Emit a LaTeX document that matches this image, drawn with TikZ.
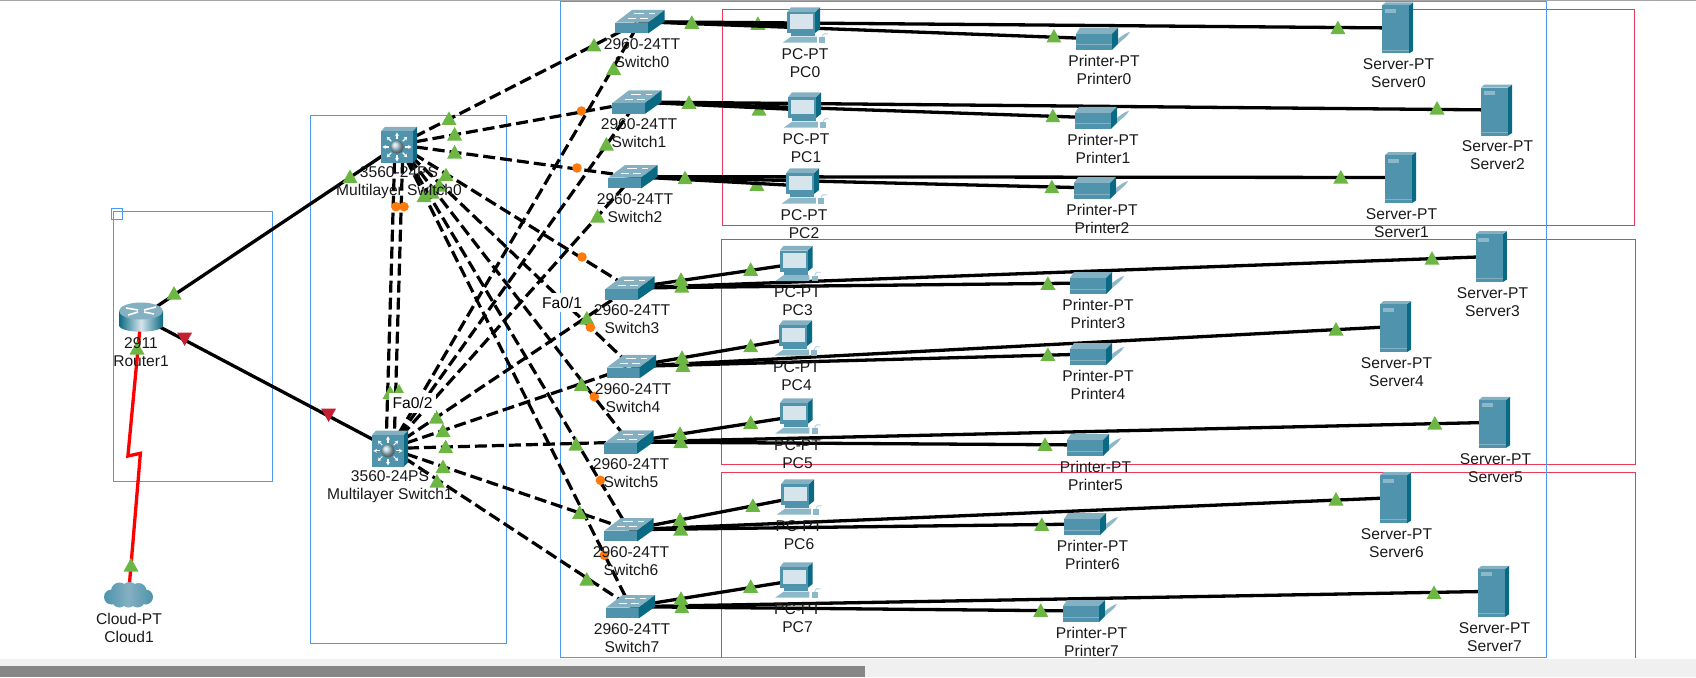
\documentclass[tikz,border=0pt]{standalone}
\usepackage{fontspec}
\setmainfont{Liberation Sans}
\usetikzlibrary{arrows.meta}
\definecolor{pttop}{HTML}{84B0C1}
\definecolor{ptfront}{HTML}{4F93AC}
\definecolor{ptside}{HTML}{0B6A83}
\definecolor{ptpale}{HTML}{8DB8C9}
\definecolor{ptscreen}{HTML}{D6E4EB}
\definecolor{boxblue}{HTML}{4A9BF0}
\definecolor{boxred}{HTML}{EE3A5A}
\definecolor{upgreen}{HTML}{6CB644}
\definecolor{downred}{HTML}{C42032}
\definecolor{amber}{HTML}{FF7A0A}
\tikzset{
  linkline/.style={line width=3.3pt, black},
  dashlink/.style={line width=3.2pt, black, dash pattern=on 12pt off 5pt},
  seriallink/.style={line width=3.3pt, red},
  groupbox/.style={line width=1pt, boxblue},
  zonebox/.style={line width=1pt, boxred},
  devlabel/.style={font=\fontsize{15.6}{18}\selectfont, align=center, inner sep=0pt, text=black!90},
  portlabel/.style={font=\fontsize{15.6}{18}\selectfont, fill=white, inner sep=4pt},
  swicon/.pic={
    \fill[pttop] (-24.6,1) -- (-8,-11.7) -- (24.6,-11.7) -- (8.2,1) -- cycle;
    \fill[ptfront] (-24.6,1) rectangle (8.2,11.7);
    \fill[ptside] (8.2,1) -- (24.6,-11.7) -- (24.6,0) -- (8.2,11.7) -- cycle;
    \draw[white, line width=.8pt] (-6,-8) -- (4,-8) (9,-8) -- (15,-8) (-12,-3) -- (-4,-3) (0,-3) -- (8,-3);
  },
  mlsicon/.pic={
    \fill[pttop] (-18,-13.4) -- (-14,-17.9) -- (18,-17.9) -- (14,-13.4) -- cycle;
    \fill[ptside] (14,-13.4) -- (18,-17.9) -- (18,14) -- (14,18) -- cycle;
    \fill[ptfront] (-18,-13.4) rectangle (14,18);
    \begin{scope}[shift={(-2,2.3)}]
      \foreach \a in {0,45,...,315}
        \draw[white, line width=1.1pt, -{Stealth[length=3.5pt,width=4pt]}] (\a:8) -- (\a:14.5);
      \shade[ball color=ptscreen!70!ptfront] (0,0) circle [radius=6.5];
    \end{scope}
  },
  routericon/.pic={
    \shade[left color=ptside, right color=ptside, middle color=ptscreen]
      (-22,-6) -- (-22,8) .. controls (-22,17) and (22,17) .. (22,8) -- (22,-6) -- cycle;
    \fill[pttop] (0,-6) ellipse [x radius=22, y radius=8.5];
    \draw[white, line width=1.6pt] (-15,-9) -- (-3,-7) (15,-10) -- (3,-7) (-13,-2) -- (-3,-5) (13,-3) -- (3,-5);
  },
  cloudicon/.pic={
    \shade[left color=ptfront, right color=ptfront, middle color=pttop]
      (-17,2) circle [radius=7.5] (-9,-4) circle [radius=8.5]
      (1,-5) circle [radius=8] (10,-4) circle [radius=8] (17,2) circle [radius=7.5]
      (-9,5) circle [radius=7.5] (0,5) circle [radius=7.5] (9,5) circle [radius=7.5];
  },
  pcicon/.pic={
    \fill[ptside] (10,-13) -- (15,-17.7) -- (15,4) -- (10,8) -- cycle;
    \fill[pttop] (-17.7,-13) -- (-14,-17.7) -- (15,-17.7) -- (10,-13) -- cycle;
    \fill[ptfront] (-17.7,-13) rectangle (10,8);
    \fill[ptscreen] (-15,-10.5) rectangle (8,4);
    \fill[ptfront] (-14,8) rectangle (10,11);
    \fill[ptpale] (-22.5,17.7) -- (-14,11.7) -- (11.8,11.7) -- (11.8,17.7) -- cycle;
    \fill[ptpale] (14,12) rectangle (20,17.7);
    \draw[ptpale!60, line width=1pt] (17,12) .. controls (18,8) and (21,8) .. (23,9);
  },
  printericon/.pic={
    \fill[pttop] (-21,-5) -- (-17,-11) -- (21,-11) -- (15,-5) -- cycle;
    \fill[ptfront] (-21,-5) rectangle (15,11);
    \fill[ptside] (15,-5) -- (21,-11) -- (21,5) -- (15,11) -- cycle;
    \draw[pttop, line width=.8pt] (-21,6) -- (15,6);
    \fill[ptpale] (21,0) .. controls (25,-3) and (29,-6) .. (33,-7) .. controls (31,-3) and (27,0) .. (21,5) -- cycle;
  },
  servericon/.pic={
    \fill[ptside] (11.5,-22.5) -- (15.5,-25.5) -- (15.5,23) -- (11.5,25.5) -- cycle;
    \fill[pttop] (-15.5,-22.5) -- (-12,-25.5) -- (15.5,-25.5) -- (11.5,-22.5) -- cycle;
    \fill[ptfront] (-15.5,-22.5) rectangle (11.5,25.5);
    \fill[ptpale] (-13,-19) rectangle (-2,-15);
    \draw[pttop, line width=.7pt] (-15.5,22) -- (11.5,22);
  }
}

\begin{document}
\begin{tikzpicture}[x=1pt, y=-1pt]
    \useasboundingbox (0,0) rectangle (1696,677);
    \fill[black!35] (0,0) rectangle (1696,1);
    \fill[black!6] (0,659) rectangle (1696,677);
    \fill[black!47] (0,666) rectangle (865,677);
    % areas
    \draw[groupbox] (113.2,211.5) rectangle (272.5,481.2);
    \draw[groupbox] (111.4,208.2) rectangle (122.5,219.6);
    \draw[groupbox] (310.7,115.5) rectangle (506.4,643);
    \draw[zonebox] (722.5,9.5) rectangle (1634,225.4);
    \draw[zonebox] (721.4,239.6) rectangle (1635.8,464.6);
    \draw[zonebox] (721.4,657.6) -- (721.4,472.4) -- (1635.8,472.4) -- (1635.8,657.6);
    \draw[groupbox] (560.7,2) rectangle (1546,657.6);

    \coordinate (router1) at (141,317);
    \coordinate (cloud1) at (128.5,595);
    \coordinate (mls0) at (399,144.7);
    \coordinate (mls1) at (390,448.5);
    \coordinate (kink0) at (127.9,456);
    \coordinate (kink1) at (140.4,453.3);
    \foreach \i/\px/\py in {0/640/21.7,1/637/102,2/633/176.7,3/630/288,4/631.5/366.5,5/629/442,6/629/529.7,7/630.5/606.7}
        \coordinate (sw\i) at (\px,\py);
    \foreach \i/\px/\py in {0/805/25,1/806/110,2/804/186,3/797.6/263.5,4/797/338,5/797.6/416,6/799/497,7/797.6/580}
        \coordinate (pc\i) at (\px,\py);
    \foreach \i/\px/\py in {0/1097/38.8,1/1096/117.8,2/1095/188,3/1091/283,4/1091/354,5/1088/445,6/1085/524,7/1084/611}
        \coordinate (prn\i) at (\px,\py);
    \foreach \i/\px/\py in {0/1397.5/28,1/1400.5/177.5,2/1496.6/110,3/1491.4/256.5,4/1395.7/326.5,5/1494.5/422.3,6/1395.7/497.6,7/1493.5/591.3}
        \coordinate (srv\i) at (\px,\py);

    % lights under the links
    \foreach \px/\py in {757.9/23.3,759/109,756.8/184.3}
        \fill[upgreen] (\px,\py) +(-7.5,6.5) -- +(7.5,6.5) -- +(0,-7) -- cycle;

    % links
    \draw[seriallink] (router1) -- (kink0) -- (kink1) -- (cloud1);
    \draw[linkline] (router1) -- (mls0);
    \draw[linkline] (router1) -- (mls1);
    \draw[dashlink] ([xshift=-4pt]mls0) -- ([xshift=-4pt]mls1);
    \draw[dashlink] ([xshift=4pt]mls0) -- ([xshift=4pt]mls1);
    \foreach \i/\j in {0/0,1/2,2/1,3/3,4/4,5/5,6/6,7/7} {
        \draw[dashlink] (mls0) -- (sw\i);
        \draw[dashlink] (mls1) -- (sw\i);
        \draw[linkline] (sw\i) -- (pc\i);
        \draw[linkline] (sw\i) -- (prn\i);
        \draw[linkline] (sw\i) -- (srv\j);
    }

    % link lights
    \foreach \px/\py in {174/293,350/176.5,131/565,137/348,390/392.5,399/391,
        449/118.4,454.6/134,454.6/152,446/174.7,439/185,432/192,424/195.7,
        436.4/417,443/430.5,445.7/446.6,443/466.5,437/481,
        594/45,613.6/68.3,606.4/144,597.5/216,586.8/318,581.4/384.3,576/444,579.6/512.3,586.8/579,
        691.8/22.3,1053.9/36,1337.9/27.6,
        689/102.3,1052.9/115.7,1437/108,
        685/177.7,1051.8/186.7,1340.8/177,
        681/279.3,681.8/286,750.7/269.3,1047.9/283.3,1432/258.2,
        682/357.3,682.9/365.3,750.7/345.7,1047.9/354.3,1336/329,
        680/433.3,680.7/441.7,750.7/422.3,1045/444.3,1434.8/423,
        680/519.3,680.7/529,752.9/505.3,1041.8/524.3,1336/499,
        681/598.3,681.8/606.7,750.7/586.3,1040.7/610.3,1434/592.4}
        \fill[upgreen] (\px,\py) +(-7.5,6.5) -- +(7.5,6.5) -- +(0,-7) -- cycle;
    \foreach \px/\py in {184.6/339,328.6/415}
        \fill[downred] (\px,\py) +(-7.5,-6.5) -- +(7.5,-6.5) -- +(0,7) -- cycle;
    \foreach \px/\py in {396/206.7,404/206.7,581.4/111,577/168,582/257,590.4/327.3,594.3/396.7,600.4/480.3,604.3/555.3}
        \fill[amber] (\px,\py) circle [radius=4.8];

    % devices
    \pic at (router1) {routericon};
    \pic at (cloud1) {cloudicon};
    \pic at (mls0) {mlsicon};
    \pic at (mls1) {mlsicon};
    \foreach \i in {0,...,7} {
        \pic at (sw\i) {swicon};
        \pic at (pc\i) {pcicon};
        \pic at (prn\i) {printericon};
        \pic at (srv\i) {servericon};
    }

    % labels
    \node[portlabel] (port1) at (562,302.5) {Fa0/1};
    \node[portlabel] (port2) at (412.5,403) {Fa0/2};
    \node[devlabel] (lbrouter) at (141,352) {2911\\Router1};
    \node[devlabel] (lbcloud) at (129,628) {Cloud-PT\\Cloud1};
    \node[devlabel] (lbmls0) at (399,183) {3560-24PS\\Multilayer Switch0};
    \node[devlabel] (lbmls1) at (390,487) {3560-24PS\\Multilayer Switch1};
    \foreach \i/\px/\py in {0/642/53.3,1/639/133.3,2/635/208.3,3/632/319.3,4/633/398.3,5/631/473.3,6/631/561.3,7/632/638.3}
        \node[devlabel] (lbsw\i) at (\px,\py) {2960-24TT\\Switch\i};
    \foreach \i/\px/\py in {0/805/63.3,1/806/148.3,2/804/224,3/797.5/301.3,4/796.5/376.3,5/797.5/454.6,6/799/535,7/797.5/618}
        \node[devlabel] (lbpc\i) at (\px,\py) {PC-PT\\PC\i};
    \foreach \i/\px/\py in {0/1104/70.3,1/1103/149.3,2/1102/219.3,3/1098/314.3,4/1098/385.3,5/1095.5/476.3,6/1092.5/555.3,7/1091.5/642}
        \node[devlabel] (lbprn\i) at (\px,\py) {Printer-PT\\Printer\i};
    \foreach \i/\px/\py in {0/1398.5/73,1/1401.5/223,2/1497.5/155,3/1492.5/302,4/1396.5/372,5/1495.5/467.7,6/1396.5/543,7/1494.5/637}
        \node[devlabel] (lbsrv\i) at (\px,\py) {Server-PT\\Server\i};
\end{tikzpicture}
\end{document}
